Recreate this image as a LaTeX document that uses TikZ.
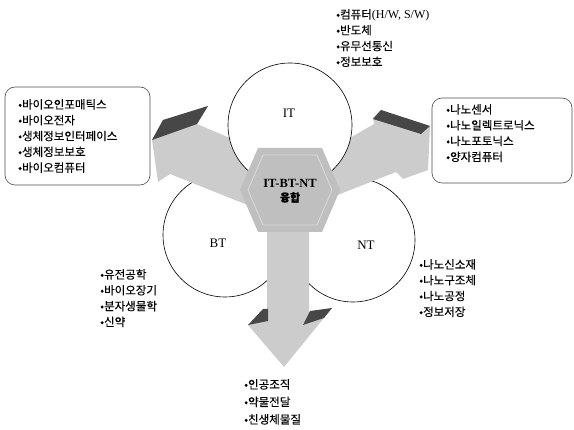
\documentclass[tikz,border=0pt]{standalone}
\usepackage{fontspec}
\setmainfont{Liberation Serif}
\newfontfamily\kr[FakeBold=0.25]{Noto Sans CJK KR}
\begin{document}
\begin{tikzpicture}[x=1pt,y=-1pt,
  circ/.style={circle, draw=black, line width=0.6pt, fill=white, minimum size=124pt, inner sep=0pt},
  arrowbody/.style={fill=gray!40, draw=none},
  bevel/.style={fill=black!72, draw=none},
  hexfill/.style={fill=gray!50, draw=none},
  hexline/.style={draw=white!70!gray, line width=0.9pt},
  box/.style={draw=black!70, line width=0.6pt, rounded corners=10pt},
  lst/.style={font=\kr\fontsize{11.5}{15.8}\selectfont, align=left, inner sep=0pt, anchor=north west},
  lbl/.style={font=\fontsize{13}{15}\selectfont, inner sep=0pt},
  core/.style={font=\bfseries\fontsize{12.5}{17}\selectfont, align=center, inner sep=0pt}]
\useasboundingbox (0,0) rectangle (574,430);

% lower circles
\node[circ] (btc) at (225,235) {};
\node[circ] (ntc) at (353,240) {};

% left arrow
\path[arrowbody] (270,185) -- (258,150) -- (197,124) -- (208,106) -- (163,120) -- (152,140)
  -- (158,182) -- (170,174) -- (250,206) -- cycle;
\path[bevel] (152,140) -- (163,120) -- (208,106) -- (197,124) -- cycle;

% right arrow
\path[arrowbody] (310,185) -- (324,153) -- (374,124) -- (373,118) -- (381,110) -- (430,126)
  -- (428,170) -- (403,179) -- (396,172) -- (335,196) -- cycle;
\path[bevel] (373,119) -- (381,110) -- (430,126) -- (421,134) -- cycle;

% IT circle
\node[circ] (itc) at (290,125) {};

% down arrow
\path[arrowbody] (267,225) -- (309,225) -- (309,312) -- (332,308) -- (284,367) -- (248,325)
  -- (267,312) -- cycle;
\path[bevel] (248,325) -- (263,309) -- (268,309) -- (268,321) -- cycle;
\path[bevel] (303,325) -- (310,311) -- (332,308) -- (324,318) -- cycle;

% hexagon
\path[hexfill] (240,190) -- (258,148) -- (322,148) -- (340,190) -- (322,232) -- (258,232) -- cycle;
\draw[hexline] (248,190) -- (263,155) -- (317,155) -- (332,190) -- (317,225) -- (263,225) -- cycle;
\node[core] (conv) at (290,191) {IT-BT-NT\\[-3pt]{\kr\fontsize{11}{13}\selectfont 융합}};

% circle labels
\node[lbl] (itl) at (289,113) {IT};
\node[lbl] (btl) at (218,243) {BT};
\node[lbl] (ntl) at (366,245) {NT};

% boxes
\draw[box] (5,87) rectangle (150,185);
\draw[box] (432,98) rectangle (572,183);

% lists
\node[lst] (itlist) at (336,9) {•컴퓨터{\rmfamily\fontsize{12}{15.8}\selectfont(H/W, S/W)}\\•반도체\\•유무선통신\\•정보보호};
\node[lst] (biolist) at (18,99) {•바이오인포매틱스\\•바이오전자\\•생체정보인터페이스\\•생체정보보호\\•바이오컴퓨터};
\node[lst] (nanolist) at (446,104) {•나노센서\\•나노일렉트로닉스\\•나노포토닉스\\•양자컴퓨터};
\node[lst] (btlist) at (100,269) {•유전공학\\•바이오장기\\•분자생물학\\•신약};
\node[lst] (ntlist) at (419,259) {•나노신소재\\•나노구조체\\•나노공정\\•정보저장};
\node[lst, font=\kr\fontsize{11.5}{17.5}\selectfont] (botlist) at (244,379) {•인공조직\\•약물전달\\•친생체물질};
\end{tikzpicture}
\end{document}
